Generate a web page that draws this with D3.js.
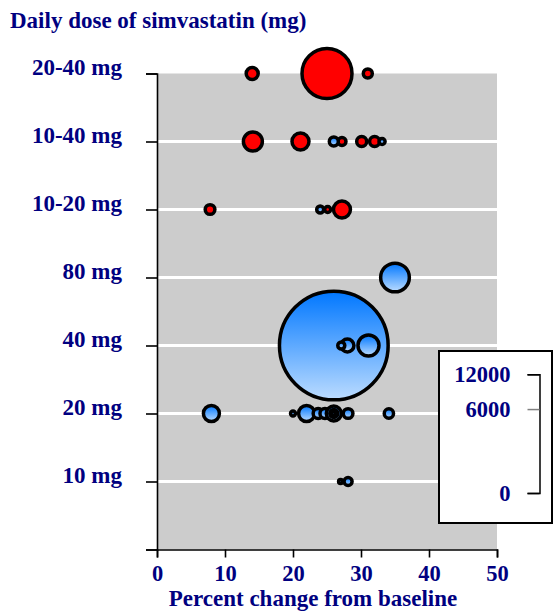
<!DOCTYPE html>
<html><head><meta charset="utf-8">
<script src="https://cdn.jsdelivr.net/npm/d3@7"></script>
<style>
body{margin:0;background:#fff;}
text{font-family:"Liberation Serif","Times New Roman",serif;font-weight:bold;fill:#000080;}
</style></head>
<body><svg id="c" width="554" height="612"></svg>
<script>
// categories (index 1..7 on the y axis; 0 is the empty bottom slot)
const doseLabels = ["", "10 mg", "20 mg", "40 mg", "80 mg", "10-20 mg", "10-40 mg", "20-40 mg"];
const xTicks = [0, 10, 20, 30, 40, 50];
const legendTicks = [0, 6000, 12000];

// studies: dose row index, percent change, sample size, type (combo=red, mono=blue)
const studyDose   = [7, 7, 7,   6, 6, 6, 6, 6,   5, 5, 5,   6, 6, 5,   4,   3, 3, 3, 3,   2, 2, 2, 2, 2, 2, 2, 2, 2, 2,   1, 1];
const studyChange = [14, 25, 31,   14.1, 21.1, 27.2, 30.1, 32,   7.8, 25.1, 27.2,   26, 33.1, 24,   35,   26, 31.1, 28, 27.1,   8, 20, 22, 23.7, 24.7, 26, 26, 26, 28.1, 34.1,   27, 28.1];
const studyN      = [123, 2129, 69,   307, 246, 55, 85, 85,   80, 31, 246,   69, 31, 42,   702,   10063, 376, 144, 42,   218, 21, 218, 85, 85, 192, 55, 8, 80, 74,   14, 55];
const studyType   = ["c","c","c", "c","c","c","c","c", "c","c","c", "m","m","m", "m", "m","m","m","m", "m","m","m","m","m","m","m","m","m","m", "m","m"];

const svg = d3.select("#c");
const x = d3.scaleLinear().domain([0, 50]).range([157, 497]);
const y = d3.scaleLinear().domain([0, 7]).range([549.5, 73.5]);
const diam = d3.scaleSqrt().domain([0, 12000]).range([0, 118.7]);

const defs = svg.append("defs");
const grad = defs.append("linearGradient").attr("id", "blueGrad")
  .attr("x1", 0).attr("y1", 0).attr("x2", 0).attr("y2", 1);
grad.append("stop").attr("offset", "0%").attr("stop-color", "#0077ff");
grad.append("stop").attr("offset", "100%").attr("stop-color", "#bcdcff");

// plot background
svg.append("rect").attr("x", x(0)).attr("y", y(7)).attr("width", x(50) - x(0)).attr("height", y(0) - y(7)).attr("fill", "#cccccc");

// grid lines
svg.append("g").selectAll("line").data(d3.range(1, 7)).join("line")
  .attr("x1", x(0)).attr("x2", x(50)).attr("y1", d => y(d)).attr("y2", d => y(d))
  .attr("stroke", "#ffffff").attr("stroke-width", 3);

// title
svg.append("text").attr("x", 10).attr("y", 28).attr("font-size", 23).text("Daily dose of simvastatin (mg)");

// y axis
const yAxis = svg.append("g").attr("transform", "translate(157,0)")
  .call(d3.axisLeft(y).tickValues(d3.range(0, 8)).tickSize(11).tickPadding(24).tickFormat(d => doseLabels[d]));
yAxis.selectAll("path,line").attr("stroke", "#000").attr("stroke-width", 1.6);
yAxis.selectAll("text").attr("font-size", 23).attr("font-family", null).attr("fill", null).attr("dy", "0.06em");

// x axis
const xAxis = svg.append("g").attr("transform", "translate(0,549.5)")
  .call(d3.axisBottom(x).tickValues(xTicks).tickSize(8).tickPadding(8));
xAxis.selectAll("path,line").attr("stroke", "#000").attr("stroke-width", 1.6);
xAxis.selectAll("text").attr("font-size", 22.5).attr("font-family", null).attr("fill", null);
svg.append("text").attr("x", 313).attr("y", 606).attr("text-anchor", "middle").attr("font-size", 23).text("Percent change from baseline");

// bubbles
const idx = d3.range(studyDose.length);
svg.append("g").selectAll("circle").data(idx).join("circle")
  .attr("cx", i => x(studyChange[i]))
  .attr("cy", i => y(studyDose[i]))
  .attr("r", i => diam(studyN[i]) / 2)
  .attr("fill", i => studyType[i] === "c" ? "#ff0000" : "url(#blueGrad)")
  .attr("stroke", "#000").attr("stroke-width", 3.5);

// legend
svg.append("rect").attr("x", 439).attr("y", 351).attr("width", 113).attr("height", 172)
  .attr("fill", "#fff").attr("stroke", "#000").attr("stroke-width", 2);
const ly = d3.scaleSqrt().domain([0, 12000]).range([493, 374.3]);
const lAxis = svg.append("g").attr("transform", "translate(539.5,0)")
  .call(d3.axisLeft(ly).tickValues(legendTicks).tickSize(12).tickPadding(17).tickFormat(d3.format("d")));
lAxis.selectAll("path,line").attr("stroke", "#000").attr("stroke-width", 1.5);
lAxis.selectAll(".tick line").attr("stroke", d => d === 6000 ? "#808080" : "#000");
lAxis.selectAll("text").attr("font-size", 22.5).attr("font-family", null).attr("fill", null);
</script></body></html>
